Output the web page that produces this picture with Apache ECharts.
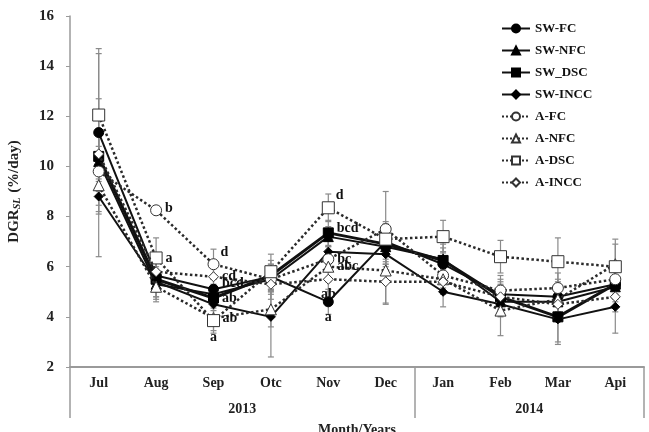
<!DOCTYPE html>
<html>
<head>
<meta charset="utf-8">
<script src="https://cdn.jsdelivr.net/npm/echarts@6/dist/echarts.min.js"></script>
<style>
html, body { margin: 0; padding: 0; background: #fff; }
#main { width: 649px; height: 432px; }
</style>
</head>
<body>
<div id="main"></div>
<script>
var months = ['Jul', 'Aug', 'Sep', 'Otc', 'Nov', 'Dec', 'Jan', 'Feb', 'Mar', 'Api']
var years = ['2013', '2014']
var yearSpan = [6, 4]
var yTicks = [2, 16, 2]   // min, max, step

var seriesNames = ['SW-FC', 'SW-NFC', 'SW_DSC', 'SW-INCC', 'A-FC', 'A-NFC', 'A-DSC', 'A-INCC']

// DGR values
var swFC   = [11.35, 5.65, 5.1, 5.6, 4.6, 7.0, 6.1, 4.9, 4.8, 5.3]
var swNFC  = [10.2, 5.3, 4.9, 5.5, 7.2, 6.8, 6.3, 4.6, 4.6, 5.2]
var swDSC  = [10.4, 5.5, 4.75, 5.65, 7.35, 6.9, 6.25, 4.8, 4.0, 5.3]
var swINCC = [8.8, 5.4, 4.5, 4.0, 6.6, 6.5, 5.0, 4.5, 3.9, 4.4]
var aFC    = [9.8, 8.25, 6.1, 5.5, 6.3, 7.5, 5.65, 5.05, 5.15, 5.5]
var aNFC   = [9.25, 5.2, 3.95, 4.3, 6.0, 5.85, 5.5, 4.25, 4.7, 6.1]
var aDSC   = [12.05, 6.35, 3.85, 5.8, 8.35, 7.1, 7.2, 6.4, 6.2, 6.0]
var aINCC  = [10.5, 5.8, 5.6, 5.3, 5.5, 5.4, 5.4, 4.8, 4.5, 4.8]

// error bar half widths
var errSwFC   = [3.15, 0.6, 0.4, 0.5, 0.5, 0.8, 0.5, 0.6, 0.7, 0.6]
var errSwNFC  = [1.2, 0.6, 0.4, 0.6, 0.4, 0.7, 0.6, 0.5, 0.8, 0.6]
var errSwDSC  = [2.3, 0.7, 0.5, 0.6, 0.5, 0.8, 0.5, 0.5, 1.1, 0.6]
var errSwINCC = [2.4, 0.6, 0.5, 1.6, 0.5, 0.7, 0.6, 0.5, 0.9, 1.05]
var errAFC    = [1.0, 0.1, 0.6, 0.5, 0.5, 1.5, 0.5, 0.6, 0.6, 0.6]
var errANFC   = [0.8, 0.6, 0.5, 0.7, 0.6, 1.3, 0.6, 1.0, 0.5, 0.8]
var errADSC   = [2.65, 0.8, 0.5, 0.7, 0.55, 0.6, 0.65, 0.65, 0.95, 1.1]
var errAINCC  = [1.0, 0.5, 0.4, 0.6, 0.5, 0.9, 0.5, 0.6, 0.5, 0.6]

// significance letters: series, month index, text, position, nudge up (px)
var letters = [
    ['A-FC', 1, 'b', 'right', 2],
    ['A-DSC', 1, 'a', 'right', 0],
    ['A-FC', 2, 'd', 'right', 12],
    ['A-INCC', 2, 'cd', 'right', 0],
    ['SW-FC', 2, 'bcd', 'right', 6],
    ['SW_DSC', 2, 'ab', 'right', 0],
    ['A-NFC', 2, 'ab', 'right', 0],
    ['A-DSC', 2, 'a', 'bottom', 0],
    ['A-DSC', 4, 'd', 'right', 12],
    ['SW_DSC', 4, 'bcd', 'right', 4],
    ['A-FC', 4, 'bc', 'right', 0],
    ['A-NFC', 4, 'abc', 'right', 0],
    ['A-INCC', 4, 'ab', 'bottom', 0],
    ['SW-FC', 4, 'a', 'bottom', 0]
]

var FONT = 'Liberation Serif'

var charts = function () {

}

charts.prototype = {
    init: function () {
        this.initChart()
    },
    buildData: function (name, values) {
        return values.map(function (v, i) {
            var item = { value: v }
            letters.forEach(function (l) {
                if (l[0] == name && l[1] == i) {
                    item.label = {
                        show: true,
                        position: l[3],
                        distance: 3,
                        offset: [l[4] > 8 ? -2 : 0, -l[4]],
                        formatter: l[2],
                        color: '#111',
                        fontFamily: FONT,
                        fontWeight: 'bold',
                        fontSize: 14
                    }
                }
            })
            return item
        })
    },
    initChart: function () {
        var self = this
        var myChart = echarts.init(document.getElementById('main'));

        var values = [swFC, swNFC, swDSC, swINCC, aFC, aNFC, aDSC, aINCC]
        var errors = [errSwFC, errSwNFC, errSwDSC, errSwINCC, errAFC, errANFC, errADSC, errAINCC]
        var symbols = ['circle', 'triangle', 'rect', 'diamond', 'circle', 'triangle', 'rect', 'diamond']
        var sizes = [10, 10, 10, 9, 11, 11, 12, 10]

        var errData = []
        values.forEach(function (vals, s) {
            vals.forEach(function (v, i) {
                errData.push([i, v - errors[s][i], v + errors[s][i]])
            })
        })

        // year label positions on the lower axis
        var yearCenters = [], yearBounds = [0], acc = 0
        yearSpan.forEach(function (n) {
            yearCenters.push(acc + n / 2)
            acc += n
            yearBounds.push(acc)
        })

        var series = [{
            type: 'custom',
            name: 'err',
            silent: true,
            z: 1,
            encode: { x: 0, y: [1, 2] },
            data: errData,
            renderItem: function (params, api) {
                var x = api.value(0)
                var top = api.coord([x, api.value(2)])
                var bot = api.coord([x, api.value(1)])
                var w = 3
                var style = { stroke: '#8a8a8a', lineWidth: 1.2 }
                return {
                    type: 'group',
                    children: [
                        { type: 'line', shape: { x1: top[0], y1: top[1], x2: bot[0], y2: bot[1] }, style: style },
                        { type: 'line', shape: { x1: top[0] - w, y1: top[1], x2: top[0] + w, y2: top[1] }, style: style },
                        { type: 'line', shape: { x1: bot[0] - w, y1: bot[1], x2: bot[0] + w, y2: bot[1] }, style: style }
                    ]
                }
            }
        }]

        seriesNames.forEach(function (name, s) {
            var open = s >= 4
            series.push({
                type: 'line',
                name: name,
                data: self.buildData(name, values[s]),
                symbol: symbols[s],
                symbolSize: sizes[s],
                showAllSymbol: true,
                z: 2 + s,
                lineStyle: {
                    color: open ? '#2a2a2a' : '#111',
                    width: open ? 2.5 : (name == 'SW_DSC' ? 3 : 2),
                    type: open ? 'dotted' : 'solid'
                },
                itemStyle: {
                    color: open ? '#fff' : '#000',
                    borderColor: open ? '#333' : '#000',
                    borderWidth: 1
                },
                emphasis: { disabled: true }
            })
        })

        var option = {
            animation: false,
            backgroundColor: '#fff',
            legend: {
                data: seriesNames,
                orient: 'vertical',
                left: 496,
                top: 17,
                itemWidth: 28,
                itemHeight: 10,
                itemGap: 9,
                textStyle: { fontFamily: FONT, fontWeight: 'bold', fontSize: 13, color: '#111' }
            },
            grid: { left: 70, right: 5, top: 16, bottom: 65, outerBoundsMode: 'none' },
            xAxis: [{
                type: 'category',
                data: months,
                boundaryGap: true,
                axisLine: { lineStyle: { color: '#9a9a9a', width: 2 } },
                axisTick: { alignWithLabel: true, inside: true, length: 4, lineStyle: { color: '#9a9a9a' } },
                axisLabel: { margin: 9, fontFamily: FONT, fontWeight: 'bold', fontSize: 14, color: '#222' }
            }, {
                type: 'value',
                min: 0,
                max: acc,
                position: 'bottom',
                axisLine: { show: false },
                splitLine: { show: false },
                axisTick: { show: true, customValues: yearBounds, length: 51, lineStyle: { color: '#9a9a9a', width: 1.5 } },
                axisLabel: {
                    customValues: yearCenters,
                    margin: 35,
                    fontFamily: FONT, fontWeight: 'bold', fontSize: 14, color: '#222',
                    formatter: function (v) { return years[yearCenters.indexOf(v)] }
                },
                name: 'Month/Years',
                nameLocation: 'middle',
                nameGap: 56,
                nameTextStyle: { fontFamily: FONT, fontWeight: 'bold', fontSize: 14, color: '#222' }
            }],
            yAxis: {
                type: 'value',
                min: yTicks[0],
                max: yTicks[1],
                interval: yTicks[2],
                splitLine: { show: false },
                axisLine: { show: true, lineStyle: { color: '#9a9a9a', width: 1.5 } },
                axisTick: { show: true, length: 4, lineStyle: { color: '#9a9a9a' } },
                axisLabel: { margin: 16, fontFamily: FONT, fontWeight: 'bold', fontSize: 15, color: '#222' },
                name: '{m|DGR}{s|SL}{m| (%/day)}',
                nameLocation: 'middle',
                nameRotate: 90,
                nameGap: 48,
                nameTextStyle: {
                    rich: {
                        m: { fontFamily: FONT, fontWeight: 'bold', fontSize: 15, color: '#222' },
                        s: { fontFamily: FONT, fontWeight: 'bold', fontStyle: 'italic', fontSize: 10, color: '#222', verticalAlign: 'bottom', padding: [6, 1, 0, 0] }
                    }
                }
            },
            series: series
        };

        myChart.setOption(option);
    }
}

new charts().init()
</script>
</body>
</html>
